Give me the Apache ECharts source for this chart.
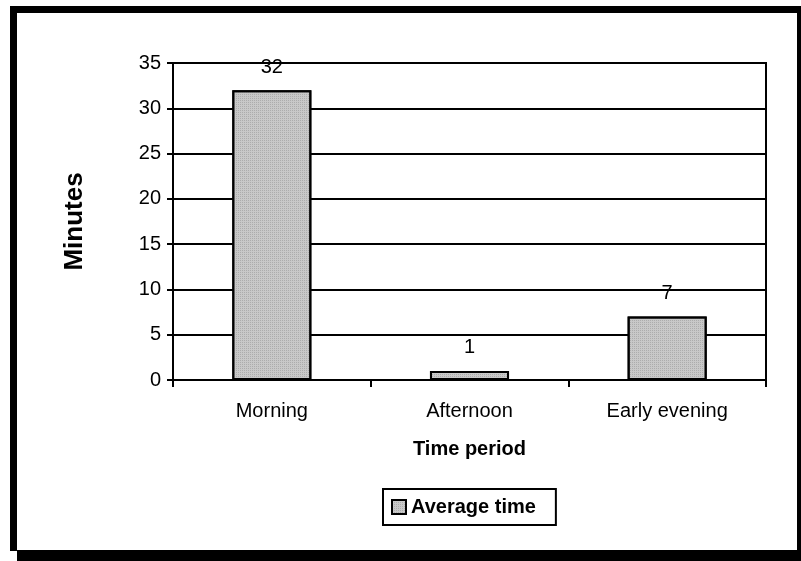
<!DOCTYPE html>
<html>
<head>
<meta charset="utf-8">
<script src="https://cdn.jsdelivr.net/npm/echarts@6/dist/echarts.min.js"></script>
<style>
html,body{margin:0;padding:0;background:#fff;}
#chart{width:801px;height:561px;}
</style>
</head>
<body>
<div id="chart"></div>
<script>
const categories = ['Morning', 'Afternoon', 'Early evening'];
const averageTime = [32, 1, 7];
const seriesName = 'Average time';
const xAxisTitle = 'Time period';
const yAxisTitle = 'Minutes';

const FONT = '"Liberation Sans", Arial, sans-serif';
const chart = echarts.init(document.getElementById('chart'), null, {renderer: 'canvas'});

const option = {
  backgroundColor: '#ffffff',
  animation: false,
  textStyle: {fontFamily: FONT},
  grid: {
    left: 173, right: 35, top: 63, bottom: 181,
    show: true, borderColor: '#000', borderWidth: 2, backgroundColor: 'transparent'
  },
  legend: {
    data: [seriesName],
    left: 383, top: 489,
    padding: [8, 20, 8, 8],
    borderColor: '#000', borderWidth: 2,
    itemWidth: 14, itemHeight: 14, itemGap: 4,
    icon: 'rect',
    itemStyle: {borderColor: '#000', borderWidth: 2},
    textStyle: {fontFamily: FONT, fontSize: 20, fontWeight: 'bold', color: '#000', padding: [0, 0, 0, 0]}
  },
  xAxis: {
    type: 'category',
    data: categories,
    boundaryGap: true,
    name: xAxisTitle,
    nameLocation: 'middle',
    nameGap: 59,
    nameTextStyle: {fontFamily: FONT, fontSize: 20, fontWeight: 'bold', color: '#000'},
    axisLine: {show: true, lineStyle: {color: '#000', width: 2}},
    axisTick: {show: true, length: 7, alignWithLabel: false, lineStyle: {color: '#000', width: 2}},
    axisLabel: {fontFamily: FONT, fontSize: 20, color: '#000', margin: 21}
  },
  yAxis: {
    type: 'value',
    min: 0, max: 35, interval: 5,
    name: yAxisTitle,
    nameLocation: 'middle',
    nameGap: 85,
    nameRotate: 90,
    nameTextStyle: {fontFamily: FONT, fontSize: 26, fontWeight: 'bold', color: '#000'},
    axisLine: {show: true, lineStyle: {color: '#000', width: 2}},
    axisTick: {show: true, length: 6, lineStyle: {color: '#000', width: 2}},
    axisLabel: {fontFamily: FONT, fontSize: 20, color: '#000', margin: 12},
    splitLine: {show: true, lineStyle: {color: '#000', width: 2}}
  },
  series: [{
    name: seriesName,
    type: 'bar',
    data: averageTime,
    barWidth: '40%',
    itemStyle: {
      color: '#c8c8c8',
      borderColor: '#000',
      borderWidth: 2,
      decal: {
        symbol: 'rect',
        symbolSize: 1,
        dashArrayX: [1, 1],
        dashArrayY: [1, 1],
        color: 'rgba(120,120,120,0.35)'
      }
    },
    label: {
      show: true, position: 'top', distance: 13,
      fontFamily: FONT, fontSize: 20, color: '#000'
    }
  }],
  graphic: [
    {type: 'rect', silent: true, z: 100, shape: {x: 10, y: 6, width: 791, height: 7}, style: {fill: '#000'}},
    {type: 'rect', silent: true, z: 100, shape: {x: 10, y: 6, width: 7, height: 545}, style: {fill: '#000'}},
    {type: 'rect', silent: true, z: 100, shape: {x: 17, y: 550, width: 784, height: 11}, style: {fill: '#000'}},
    {type: 'rect', silent: true, z: 100, shape: {x: 797, y: 6, width: 4, height: 555}, style: {fill: '#000'}}
  ]
};
chart.setOption(option);
</script>
</body>
</html>
